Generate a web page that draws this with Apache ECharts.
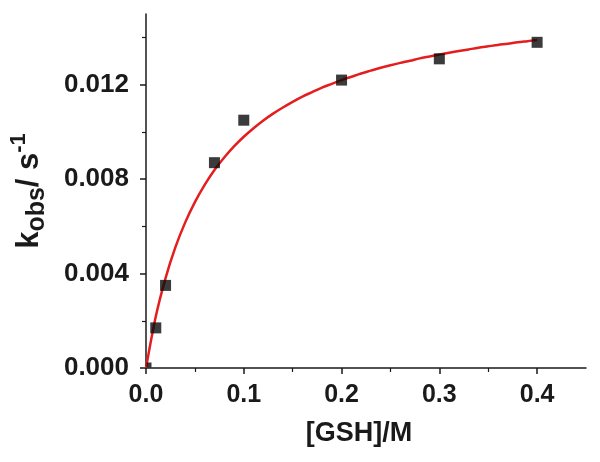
<!DOCTYPE html>
<html>
<head>
<meta charset="utf-8">
<script src="https://cdn.jsdelivr.net/npm/echarts@6/dist/echarts.min.js"></script>
<style>
  html, body { margin: 0; padding: 0; background: #fff; }
  #chart { width: 600px; height: 462px; }
</style>
</head>
<body>
<div id="chart"></div>
<script>
// measured points, [GSH] in M vs kobs in s^-1
const gshConc = [0, 0.01, 0.02, 0.07, 0.1, 0.2, 0.3, 0.4];
const kObs = [0, 0.0017, 0.0035, 0.0087, 0.0105, 0.0122, 0.0131, 0.0138];

// fitted red curve, every 0.01 M
const fitX = [0, 0.01, 0.02, 0.03, 0.04, 0.05, 0.06, 0.07, 0.08, 0.09,
  0.10, 0.11, 0.12, 0.13, 0.14, 0.15, 0.16, 0.17, 0.18, 0.19,
  0.20, 0.21, 0.22, 0.23, 0.24, 0.25, 0.26, 0.27, 0.28, 0.29,
  0.30, 0.31, 0.32, 0.33, 0.34, 0.35, 0.36, 0.37, 0.38, 0.39, 0.40];
const fitY = [0, 0.00218, 0.00381, 0.00511, 0.00616, 0.00703, 0.00776, 0.00839, 0.00892, 0.00939,
  0.00980, 0.01016, 0.01049, 0.01078, 0.01104, 0.01128, 0.01150, 0.01169, 0.01188, 0.01204,
  0.01220, 0.01234, 0.01248, 0.01260, 0.01272, 0.01283, 0.01293, 0.01302, 0.01312, 0.01320,
  0.01328, 0.01336, 0.01343, 0.01350, 0.01357, 0.01363, 0.01369, 0.01374, 0.01380, 0.01385, 0.01390];

const xMajor = [0, 0.1, 0.2, 0.3, 0.4];
const xMinor = [0.05, 0.15, 0.25, 0.35];
const yMajor = [0, 0.004, 0.008, 0.012];
const yMinor = [0.002, 0.006, 0.010, 0.014];

const font = '"Liberation Sans", Arial, sans-serif';
const ink = '#1a1a1a';

const chart = echarts.init(document.getElementById('chart'));

// the point sitting on the origin is mostly hidden under the axes
const pts = gshConc.map((x, i) => (x === 0
  ? { value: [x, kObs[i]], symbolSize: 5, symbolOffset: [3, -3] }
  : [x, kObs[i]]));
const fit = fitX.map((x, i) => [x, fitY[i]]);

chart.setOption({
  animation: false,
  grid: { left: 146, top: 14, right: 14, bottom: 94 },
  xAxis: [
    {
      type: 'value', min: 0, max: 0.45, position: 'bottom',
      splitLine: { show: false },
      axisLine: { show: true, lineStyle: { color: ink, width: 1.5 } },
      axisTick: { show: true, customValues: xMajor, length: 6, lineStyle: { color: ink, width: 1.5 } },
      axisLabel: {
        customValues: xMajor, margin: 15,
        formatter: v => v.toFixed(1),
        fontFamily: font, fontSize: 25, fontWeight: 'bold', color: ink
      },
      name: '[GSH]/M', nameLocation: 'middle', nameGap: 52,
      nameTextStyle: { fontFamily: font, fontSize: 27, fontWeight: 'bold', color: ink, padding: [0, 14, 0, 0] }
    },
    {
      type: 'value', min: 0, max: 0.45, position: 'bottom',
      splitLine: { show: false },
      axisLine: { show: false },
      axisTick: { show: true, customValues: xMinor, length: 4, lineStyle: { color: ink, width: 1.2 } },
      axisLabel: { show: false }
    }
  ],
  yAxis: [
    {
      type: 'value', min: 0, max: 0.015, position: 'left',
      splitLine: { show: false },
      axisLine: { show: true, lineStyle: { color: ink, width: 1.5 } },
      axisTick: { show: true, customValues: yMajor, length: 6, lineStyle: { color: ink, width: 1.5 } },
      axisLabel: {
        customValues: yMajor, margin: 17,
        formatter: v => v.toFixed(3),
        fontFamily: font, fontSize: 26, fontWeight: 'bold', color: ink
      },
      name: '{k|k}{sub|obs}{k|/ s}{sup|-1}',
      nameLocation: 'middle', nameRotate: 90, nameGap: 96,
      nameTextStyle: {
        fontFamily: font, fontWeight: 'bold', color: ink,
        rich: {
          k: { fontFamily: font, fontSize: 31, fontWeight: 'bold', color: ink, lineHeight: 42, verticalAlign: 'middle' },
          sub: { fontFamily: font, fontSize: 25, fontWeight: 'bold', color: ink, lineHeight: 42, verticalAlign: 'bottom', padding: [10, 0, 0, 0] },
          sup: { fontFamily: font, fontSize: 22, fontWeight: 'bold', color: ink, lineHeight: 42, verticalAlign: 'top', padding: [0, 0, 14, 0] }
        }
      }
    },
    {
      type: 'value', min: 0, max: 0.015, position: 'left',
      splitLine: { show: false },
      axisLine: { show: false },
      axisTick: { show: true, customValues: yMinor, length: 4, lineStyle: { color: ink, width: 1.2 } },
      axisLabel: { show: false }
    }
  ],
  series: [
    {
      type: 'line',
      data: fit,
      smooth: 0.3,
      showSymbol: false,
      lineStyle: { color: '#e41e1e', width: 2.5 },
      z: 3
    },
    {
      type: 'scatter',
      data: pts,
      symbol: 'rect',
      symbolSize: 11,
      itemStyle: { color: '#0a0a0a' },
      z: 4
    }
  ]
});
</script>
</body>
</html>
